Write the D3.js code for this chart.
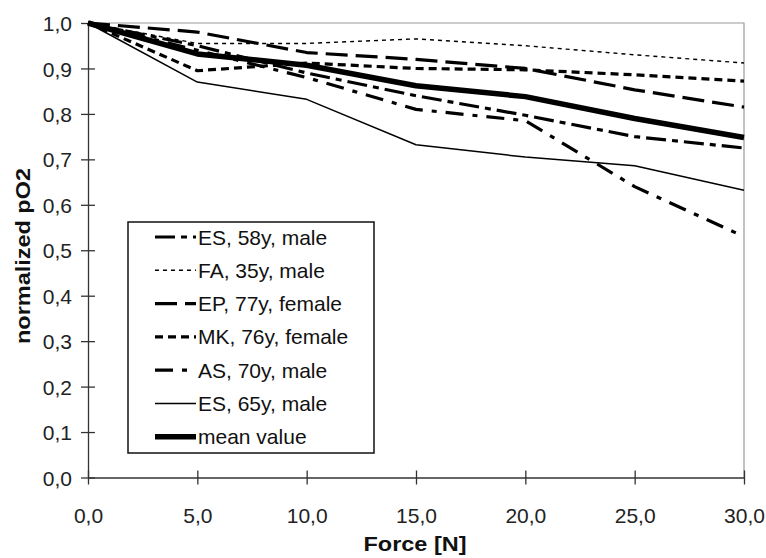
<!DOCTYPE html>
<html>
<head>
<meta charset="utf-8">
<script src="https://cdn.jsdelivr.net/npm/d3@7"></script>
<style>
  body { margin: 0; background: #fff; }
  svg { display: block; font-family: "Liberation Sans", Arial, sans-serif; }
</style>
</head>
<body>
<svg id="chart" width="766" height="558"></svg>
<script>
// force steps [N]
var forces = [0, 5, 10, 15, 20, 25, 30];

// normalized pO2 per subject
var es58 = [1.0, 0.950, 0.890, 0.840, 0.797, 0.750, 0.725];
var fa35 = [1.0, 0.955, 0.955, 0.965, 0.950, 0.930, 0.912];
var ep77 = [1.0, 0.980, 0.935, 0.920, 0.900, 0.853, 0.815];
var mk76 = [1.0, 0.895, 0.912, 0.900, 0.897, 0.886, 0.872];
var as70 = [1.0, 0.940, 0.880, 0.810, 0.785, 0.640, 0.530];
var es65 = [1.0, 0.870, 0.832, 0.732, 0.705, 0.686, 0.632];
var meanValue = [1.0, 0.932, 0.907, 0.862, 0.838, 0.790, 0.748];

var seriesNames = ['ES, 58y, male', 'FA, 35y, male', 'EP, 77y, female',
  'MK, 76y, female', 'AS, 70y, male', 'ES, 65y, male', 'mean value'];

var xTicks = [0, 5, 10, 15, 20, 25, 30];
var yTicks = [0, 0.1, 0.2, 0.3, 0.4, 0.5, 0.6, 0.7, 0.8, 0.9, 1.0];

var series = [
  { name: seriesNames[0], values: es58, width: 3.2, dash: '20,6,6,6' },
  { name: seriesNames[1], values: fa35, width: 1.4, dash: '4,4' },
  { name: seriesNames[2], values: ep77, width: 3.2, dash: '22,8' },
  { name: seriesNames[3], values: mk76, width: 3.2, dash: '8,5' },
  { name: seriesNames[4], values: as70, width: 3.2, dash: '18,9,5,9' },
  { name: seriesNames[5], values: es65, width: 1.5, dash: null },
  { name: seriesNames[6], values: meanValue, width: 5.5, dash: null }
];

var svg = d3.select('#chart');

var x = d3.scaleLinear().domain([0, 30]).range([88, 744]);
var y = d3.scaleLinear().domain([0, 1]).range([477.5, 23]);

var fmt = function (v) { return d3.format('.1f')(v).replace('.', ','); };

// plot frame (top and right edges are grey)
svg.append('path')
  .attr('d', 'M' + x(0) + ',' + y(1) + 'H' + x(30) + 'V' + y(0))
  .attr('fill', 'none')
  .attr('stroke', '#9a9a9a')
  .attr('stroke-width', 1.2);

// x axis
var xAxis = svg.append('g')
  .attr('transform', 'translate(0,' + y(0) + ')')
  .call(d3.axisBottom(x).tickValues(xTicks).tickFormat(fmt).tickSize(0).tickPadding(30));
xAxis.select('.domain').attr('stroke', '#333').attr('stroke-width', 1.3);
xAxis.selectAll('.tick line').remove();
xAxis.selectAll('.tick').append('line')
  .attr('y1', -7).attr('y2', 7)
  .attr('stroke', '#333').attr('stroke-width', 1.3);
xAxis.selectAll('.tick text')
  .attr('y', 45).attr('dy', 0)
  .attr('font-size', 21).attr('fill', '#222')
  .attr('font-family', '"Liberation Sans", Arial, sans-serif');

// y axis
var yAxis = svg.append('g')
  .attr('transform', 'translate(' + x(0) + ',0)')
  .call(d3.axisLeft(y).tickValues(yTicks).tickFormat(fmt).tickSize(0).tickPadding(16));
yAxis.select('.domain').attr('stroke', '#333').attr('stroke-width', 1.3);
yAxis.selectAll('.tick line').remove();
yAxis.selectAll('.tick').append('line')
  .attr('x1', -7).attr('x2', 7)
  .attr('stroke', '#333').attr('stroke-width', 1.3);
yAxis.selectAll('.tick text')
  .attr('dy', '0.36em')
  .attr('font-size', 21).attr('fill', '#222')
  .attr('font-family', '"Liberation Sans", Arial, sans-serif');

// axis titles
svg.append('text')
  .attr('x', x(15) - 1).attr('y', 551)
  .attr('text-anchor', 'middle')
  .attr('font-size', 21).attr('font-weight', 'bold').attr('fill', '#111')
  .attr('textLength', 103).attr('lengthAdjust', 'spacingAndGlyphs')
  .text('Force [N]');

svg.append('text')
  .attr('transform', 'translate(30,256) rotate(-90)')
  .attr('text-anchor', 'middle')
  .attr('font-size', 21).attr('font-weight', 'bold').attr('fill', '#111')
  .attr('textLength', 176).attr('lengthAdjust', 'spacingAndGlyphs')
  .text('normalized pO2');

// data lines
var line = d3.line()
  .x(function (d, i) { return x(forces[i]); })
  .y(function (d) { return y(d); });

svg.append('g').selectAll('path')
  .data(series)
  .enter().append('path')
  .attr('d', function (s) { return line(s.values); })
  .attr('fill', 'none')
  .attr('stroke', '#000')
  .attr('stroke-width', function (s) { return s.width; })
  .attr('stroke-dasharray', function (s) { return s.dash; })
  .attr('stroke-linejoin', 'round');

// legend
var legend = svg.append('g');
legend.append('rect')
  .attr('x', 128).attr('y', 222)
  .attr('width', 246).attr('height', 231)
  .attr('fill', '#fff')
  .attr('stroke', '#111').attr('stroke-width', 1.5);

var rows = legend.selectAll('g.row')
  .data(series)
  .enter().append('g')
  .attr('class', 'row')
  .attr('transform', function (s, i) { return 'translate(0,' + (237 + i * 33.3) + ')'; });

rows.append('line')
  .attr('x1', 155).attr('x2', 196)
  .attr('stroke', '#000')
  .attr('stroke-width', function (s) { return s.width; })
  .attr('stroke-dasharray', function (s) { return s.dash; });

rows.append('text')
  .attr('x', 198).attr('y', 7.5)
  .attr('font-size', 21).attr('fill', '#111')
  .text(function (s) { return s.name; });
</script>
</body>
</html>
